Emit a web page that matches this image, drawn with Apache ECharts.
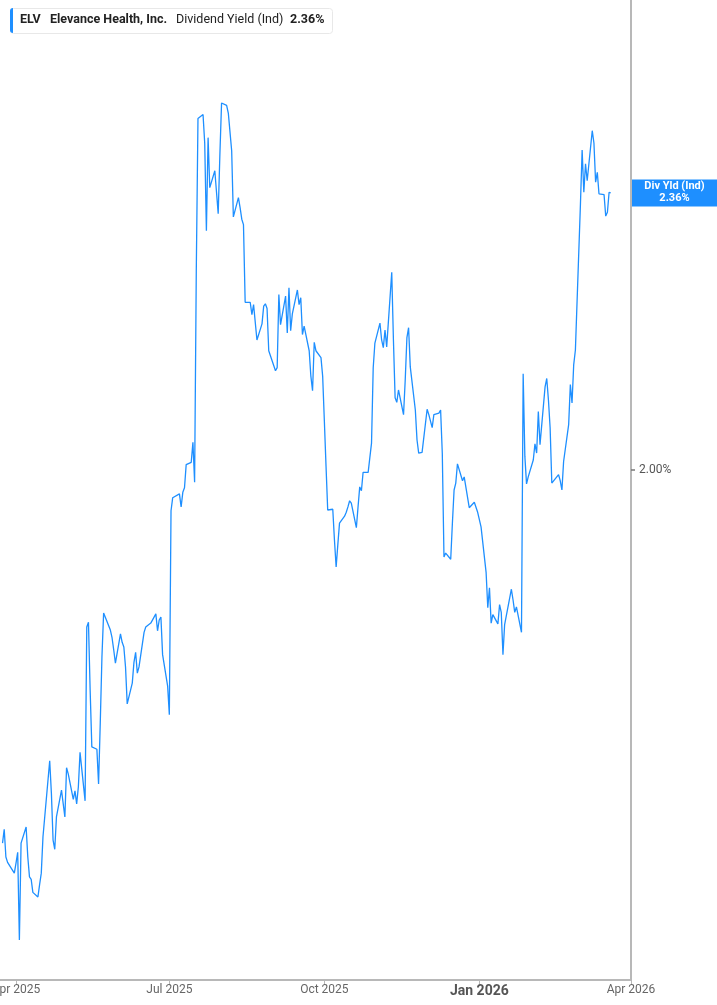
<!DOCTYPE html>
<html><head><meta charset="utf-8">
<script src="https://cdn.jsdelivr.net/npm/echarts@6/dist/echarts.min.js"></script>
<style>html,body{margin:0;padding:0;background:#fff}#c{width:717px;height:1005px}</style>
</head><body><div id="c"></div>
<script>
const ticker = 'ELV';
const company = 'Elevance Health, Inc.';
const metric = 'Dividend Yield (Ind)';
const shortMetric = 'Div Yld (Ind)';
const firstTradingDay = '2025-03-24';
const marketHolidays = ['2025-04-18','2025-05-26','2025-06-19','2025-07-04','2025-09-01','2025-11-27','2025-12-25','2026-01-01','2026-01-19','2026-02-16'];
const yieldValues = [
1.515,1.533,1.497,1.490,1.489,1.476,1.489,1.503,1.389,1.515,
1.536,1.497,1.471,1.468,1.451,1.445,1.461,1.476,1.523,1.622,
1.580,1.519,1.507,1.549,1.584,1.585,1.549,1.613,1.605,1.572,
1.583,1.566,1.588,1.633,1.570,1.796,1.802,1.714,1.640,1.637,
1.592,1.671,1.757,1.814,1.792,1.782,1.766,1.749,1.787,1.776,
1.770,1.744,1.696,1.723,1.750,1.763,1.736,1.744,1.789,1.796,
1.795,1.801,1.813,1.791,1.805,1.809,1.760,1.719,1.682,1.947,
1.964,1.969,1.952,1.971,1.977,2.007,2.010,2.036,1.984,2.260,
2.457,2.462,2.425,2.311,2.432,2.367,2.389,2.361,2.333,2.410,
2.477,2.474,2.464,2.463,2.415,2.329,2.354,2.341,2.326,2.319,
2.218,2.218,2.202,2.215,2.216,2.169,2.190,2.213,2.216,2.210,
2.155,2.129,2.133,2.228,2.189,2.226,2.178,2.237,2.181,2.203,
2.234,2.215,2.224,2.176,2.187,2.155,2.122,2.103,2.166,2.155,
2.146,2.122,2.064,2.005,1.948,1.949,1.909,1.874,1.903,1.931,
1.940,1.945,1.952,1.960,1.957,1.925,1.952,1.978,1.973,1.997,
1.997,2.016,2.035,2.133,2.165,2.191,2.169,2.159,2.182,2.160,
2.257,2.169,2.094,2.088,2.104,2.072,2.117,2.172,2.185,2.134,
2.078,2.039,2.022,2.023,2.079,2.072,2.073,2.055,2.072,2.074,
2.078,2.022,1.887,1.892,1.884,1.931,1.974,1.983,2.008,1.986,
1.991,1.991,1.951,1.958,1.956,1.945,1.926,1.867,1.821,1.847,
1.801,1.812,1.800,1.825,1.815,1.760,1.799,1.845,1.831,1.815,
1.822,1.789,2.125,2.018,1.982,1.991,2.013,2.034,2.022,2.076,
2.033,2.108,2.119,2.091,2.055,1.983,1.994,1.986,1.974,2.011,
2.059,2.111,2.087,2.137,2.156,2.346,2.416,2.361,2.398,2.376,
2.441,2.425,2.374,2.387,2.359,2.358,2.330,2.335,2.361,2.360
];
const xTickDates = ['2025-04-01','2025-07-01','2025-10-01','2026-01-01','2026-04-01'];
const yTickValues = [2.00];
const monthNames = ['Jan','Feb','Mar','Apr','May','Jun','Jul','Aug','Sep','Oct','Nov','Dec'];

function pad(n){return (n<10?'0':'')+n;}
function toTs(s){const p=s.split('-');return new Date(+p[0],+p[1]-1,+p[2]).getTime();}
// trading calendar: weekdays that are not market holidays
const tradingDates = [];
{
  const d = new Date(toTs(firstTradingDay));
  while (tradingDates.length < yieldValues.length) {
    const s = d.getFullYear()+'-'+pad(d.getMonth()+1)+'-'+pad(d.getDate());
    const wd = d.getDay();
    if (wd !== 0 && wd !== 6 && marketHolidays.indexOf(s) < 0) tradingDates.push(s);
    d.setDate(d.getDate()+1);
  }
}
const seriesData = tradingDates.map((s,i)=>[toTs(s), yieldValues[i]]);
const lastVal = yieldValues[yieldValues.length-1];

const chart = echarts.init(document.getElementById('c'), null, {renderer:'canvas'});
const blue = '#1e8fff';
chart.setOption({
  animation:false,
  grid:{left:0,right:86,top:0,bottom:25,containLabel:false,outerBoundsMode:'none'},
  xAxis:{
    type:'value',
    min:new Date(2025,2,22,12).getTime(),
    max:new Date(2026,3,1).getTime(),
    axisLine:{show:true,lineStyle:{color:'#b8b8b8',width:2}},
    axisTick:{show:true,length:5,lineStyle:{color:'#b8b8b8',width:1},customValues:xTickDates.map(toTs)},
    splitLine:{show:false},
    axisLabel:{
      customValues:xTickDates.map(toTs),
      margin:4,
      color:'#666',
      fontFamily:'Roboto',
      fontSize:12,
      hideOverlap:false,
      showMinLabel:true,
      showMaxLabel:true,
      formatter:function(v){
        const d=new Date(v);
        const t=monthNames[d.getMonth()]+' '+d.getFullYear();
        return d.getMonth()===0?'{b|'+t+'}':t;
      },
      rich:{b:{fontWeight:'bold',fontSize:14,color:'#555',fontFamily:'Roboto'}}
    }
  },
  yAxis:{
    type:'value',
    position:'right',
    min:1.3371,
    max:2.6109,
    axisLine:{show:true,lineStyle:{color:'#b8b8b8',width:2}},
    axisTick:{show:true,length:4,inside:false,lineStyle:{color:'#777',width:1.5},customValues:yTickValues},
    splitLine:{show:false},
    axisLabel:{
      customValues:yTickValues,
      margin:8,
      color:'#555',
      fontFamily:'Roboto',
      fontSize:12,
      formatter:function(v){return v.toFixed(2)+'%';}
    }
  },
  series:[{
    type:'line',
    data:seriesData,
    showSymbol:false,
    symbol:'none',
    lineStyle:{color:blue,width:1.3},
    clip:true
  }]
});

const py = chart.convertToPixel({yAxisIndex:0}, lastVal);
chart.setOption({
  graphic:[
    {type:'rect',left:10,top:8,shape:{width:322,height:25,r:3},style:{fill:'#fff',stroke:'#e8e8e8',lineWidth:1},z:10},
    {type:'rect',left:10,top:8,shape:{width:3,height:25,r:[3,0,0,3]},style:{fill:blue},z:11},
    {type:'text',left:20,top:13.5,style:{text:ticker,font:'bold 12.5px Roboto',fill:'#222'},z:11},
    {type:'text',left:50,top:13.5,style:{text:company,font:'bold 12.5px Roboto',fill:'#222'},z:11},
    {type:'text',left:176,top:13.5,style:{text:metric,font:'12.5px Roboto',fill:'#222'},z:11},
    {type:'text',left:290,top:13.5,style:{text:lastVal.toFixed(2)+'%',font:'bold 12.5px Roboto',fill:'#222'},z:11},
    {type:'rect',left:632,top:py-13.5,shape:{width:85,height:27},style:{fill:blue},z:11},
    {type:'text',x:674.5,y:py-7,style:{text:shortMetric,font:'bold 11px Roboto',fill:'#fff',align:'center',verticalAlign:'middle'},z:12},
    {type:'text',x:674.5,y:py+5,style:{text:lastVal.toFixed(2)+'%',font:'bold 11px Roboto',fill:'#fff',align:'center',verticalAlign:'middle'},z:12}
  ]
});
</script>
</body></html>
